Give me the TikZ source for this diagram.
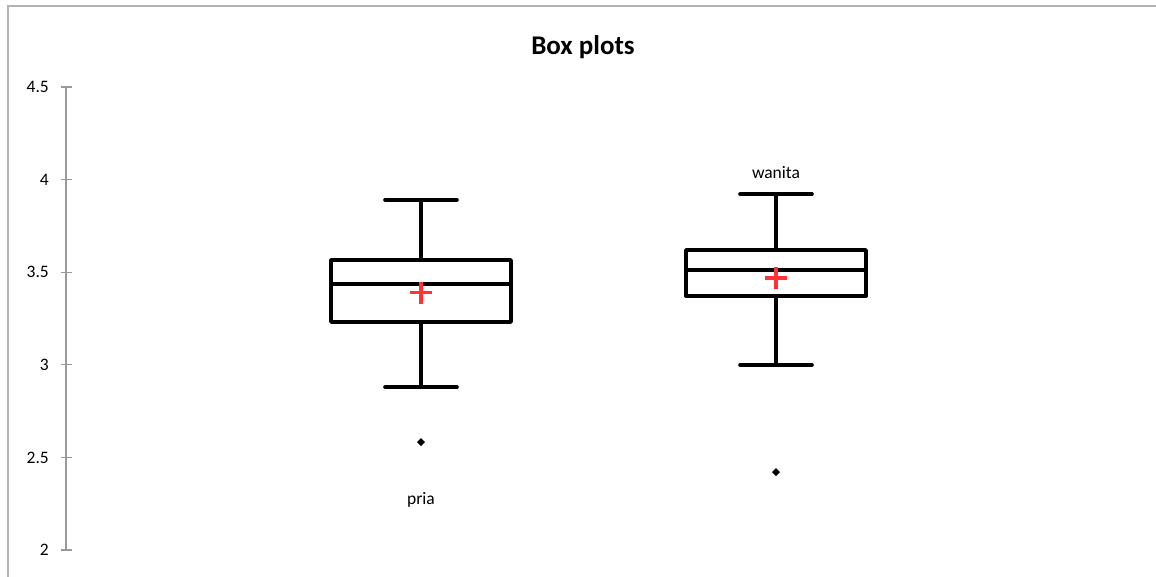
\documentclass[tikz,border=0pt]{standalone}
\usepackage{fontspec}
\setmainfont{Carlito}
\begin{document}
\begin{tikzpicture}[x=1pt,y=-1pt,
  declare function={yv(\v)=550-(\v-2)*185.2;},
  frame/.style={draw=black!30, line width=2pt},
  axisline/.style={draw=black!40, line width=1.1pt},
  bpline/.style={line width=3.6pt, line cap=round, line join=round},
  meanmark/.style={draw=red!80, line width=3.6pt},
  outlier/.style={fill=black},
  lbl/.style={font=\fontsize{17.5}{20}\selectfont},
  ticklbl/.style={font=\fontsize{17.5}{20}\selectfont, anchor=east, inner sep=0pt},
  ttl/.style={font=\fontsize{27}{31}\selectfont\bfseries}]
\useasboundingbox (0,0) rectangle (1156,576);
\fill[white] (0,0) rectangle (1156,576);
% frame
\draw[frame] (8,590) -- (8,6) -- (1170,6);
% title
\node[ttl] (title) at (583,47) {Box plots};
% axis
\draw[axisline] (66,87) -- (66,550);
\foreach \v in {2,2.5,3,3.5,4,4.5}{
  \draw[axisline] (61,{yv(\v)}) -- (72,{yv(\v)});
  \node[ticklbl] at (49,{yv(\v)}) {\v};
}
% box plot macro: x, min, q1, med, q3, max, mean, outlier
\newcommand\mybox[8]{%
  \draw[bpline] (#1-90,{yv(#3)}) rectangle (#1+90,{yv(#5)});
  \draw[bpline] (#1-90,{yv(#4)}) -- (#1+90,{yv(#4)});
  \draw[bpline] (#1,{yv(#5)}) -- (#1,{yv(#6)});
  \draw[bpline] (#1,{yv(#3)}) -- (#1,{yv(#2)});
  \draw[bpline] (#1-36,{yv(#6)}) -- (#1+36,{yv(#6)});
  \draw[bpline] (#1-36,{yv(#2)}) -- (#1+36,{yv(#2)});
  \draw[meanmark] (#1-11,{yv(#7)}) -- (#1+11,{yv(#7)});
  \draw[meanmark] (#1,{yv(#7)-11}) -- (#1,{yv(#7)+11});
  \fill[outlier] (#1,{yv(#8)-4}) -- (#1+4,{yv(#8)}) -- (#1,{yv(#8)+4}) -- (#1-4,{yv(#8)}) -- cycle;
}
\mybox{421}{2.88}{3.231}{3.436}{3.566}{3.89}{3.39}{2.583}
\mybox{776}{3.0}{3.371}{3.512}{3.62}{3.922}{3.469}{2.42}
\node[lbl] (pria) at (421,500) {pria};
\node[lbl] (wanita) at (776,173) {wanita};
\end{tikzpicture}
\end{document}
